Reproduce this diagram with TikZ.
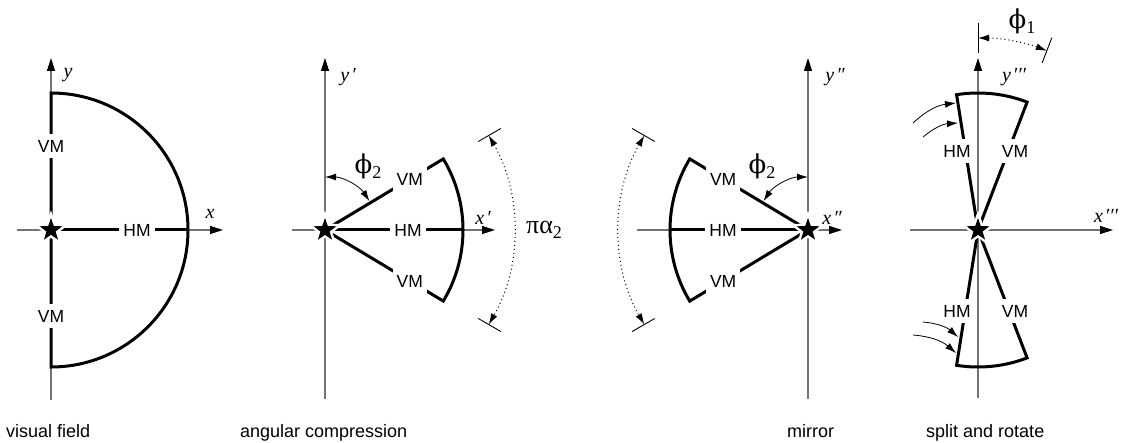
\documentclass[tikz,border=0pt]{standalone}
\usepackage{fontspec}
\setmainfont{Liberation Sans}
\newfontfamily\serifit{Liberation Serif}
\newfontfamily\greekphi{DejaVu Serif}
\usetikzlibrary{arrows.meta,shapes.geometric}
\newcommand{\subtwo}[1]{\raisebox{-5pt}{\fontsize{18}{18}\selectfont #1}}
\begin{document}
\begin{tikzpicture}[x=1pt,y=1pt,
  axis/.style={draw=black!55, line width=1.1pt, -{Triangle[length=13pt,width=8pt,color=black]}},
  bold/.style={line width=3pt, line join=miter},
  lab/.style={fill=white, inner xsep=4pt, inner ysep=6pt, font=\fontsize{17.5}{17.5}\selectfont},
  axlab/.style={font=\serifit\itshape\fontsize{20}{20}\selectfont, inner sep=0pt},
  greek/.style={font=\serifit\fontsize{26}{26}\selectfont, inner sep=0pt},
  dots/.style={line width=1pt, dash pattern=on 1pt off 3pt},
  dimtip/.style={{Latex[length=11pt,width=7pt]}-{Latex[length=11pt,width=7pt]}},
  thinarc/.style={line width=0.8pt},
  tickmark/.style={line width=0.9pt},
  curvarrow/.style={line width=0.8pt, -{Latex[length=11pt,width=7pt]}, bend left=18},
  caption/.style={font=\fontsize{18}{18}\selectfont, anchor=base west, inner sep=0pt},
  starnode/.style={star, star points=5, star point ratio=2.5, minimum size=24pt, inner sep=0pt, fill=black, preaction={draw=white, line width=5pt}}
]
\useasboundingbox (0,0) rectangle (1131,442);

% ---------- panel 1: visual field ----------
\begin{scope}[shift={(51,212)}]
  \coordinate (a1b) at (0,-170); \coordinate (a1t) at (0,172);
  \coordinate (a1l) at (-34,0);  \coordinate (a1r) at (172,0);
  \draw[axis] (a1b) -- (a1t);
  \draw[axis] (a1l) -- (a1r);
  \draw[bold] (0,137) arc[start angle=90,end angle=-90,radius=137] -- cycle;
  \draw[bold] (0,0) -- (137,0);
  \node[lab] (p1vmu) at (0,84) {VM};
  \node[lab] (p1vml) at (0,-86) {VM};
  \node[lab] (p1hm) at (86,0) {HM};
  \node[starnode] (s1) at (0,0) {};
  \node[axlab] (p1y) at (17,155) {y};
  \node[axlab] (p1x) at (159,16) {x};
\end{scope}

% ---------- panel 2: angular compression ----------
\begin{scope}[shift={(325,212)}]
  \coordinate (a2b) at (0,-169); \coordinate (a2t) at (0,172);
  \coordinate (a2l) at (-33,0);  \coordinate (a2r) at (170,0);
  \draw[axis] (a2b) -- (a2t);
  \draw[axis] (a2l) -- (a2r);
  \draw[bold] (0,0) -- (31:138) arc[start angle=31,end angle=-31,radius=138] -- cycle;
  \draw[bold] (0,0) -- (138,0);
  \node[lab] (p2vmu) at (31:99) {VM};
  \node[lab] (p2hm) at (83,0) {HM};
  \node[lab] (p2vml) at (-31:99) {VM};
  \draw[thinarc, dimtip] (90:53) arc[start angle=90,end angle=33,radius=53];
  \node[greek] (p2phi) at (43,64) {{\greekphi ϕ}\subtwo{2}};
  \draw[dots, dimtip] (30:189) arc[start angle=30,end angle=-30,radius=189];
  \draw[tickmark] (30:177) -- (30:203);
  \draw[tickmark] (-30:177) -- (-30:203);
  \node[greek] (p2pa) at (219,0) {πα\subtwo{2}};
  \node[starnode] (s2) at (0,0) {};
  \node[axlab] (p2y) at (23,153) {y\kern2pt′};
  \node[axlab] (p2x) at (158,12) {x\kern2pt′};
\end{scope}

% ---------- panel 3: mirror ----------
\begin{scope}[shift={(808,212)}]
  \coordinate (a3b) at (0,-169); \coordinate (a3t) at (0,172);
  \coordinate (a3l) at (-171,0); \coordinate (a3r) at (34,0);
  \draw[axis] (a3b) -- (a3t);
  \draw[axis] (a3l) -- (a3r);
  \draw[bold] (0,0) -- (149:138) arc[start angle=149,end angle=211,radius=138] -- cycle;
  \draw[bold] (0,0) -- (-138,0);
  \node[lab] (p3vmu) at (149:99) {VM};
  \node[lab] (p3hm) at (-85,0) {HM};
  \node[lab] (p3vml) at (211:99) {VM};
  \draw[thinarc, dimtip] (147:53) arc[start angle=147,end angle=90,radius=53];
  \node[greek] (p3phi) at (-46,64) {{\greekphi ϕ}\subtwo{2}};
  \draw[dots, dimtip] (150:189) arc[start angle=150,end angle=210,radius=189];
  \draw[tickmark] (150:177) -- (150:203);
  \draw[tickmark] (210:177) -- (210:203);
  \node[starnode] (s3) at (0,0) {};
  \node[axlab] (p3y) at (27,153) {y\kern2pt″};
  \node[axlab] (p3x) at (24,12) {x\kern2pt″};
\end{scope}

% ---------- panel 4: split and rotate ----------
\begin{scope}[shift={(978,212)}]
  \coordinate (a4b) at (0,-168); \coordinate (a4t) at (0,172);
  \coordinate (a4l) at (-68,0);  \coordinate (a4r) at (135,0);
  \draw[axis] (a4b) -- (a4t);
  \draw[axis] (a4l) -- (a4r);
  \draw[bold] (0,0) -- (99:137) arc[start angle=99,end angle=69,radius=137] -- cycle;
  \draw[bold] (0,0) -- (-99:137) arc[start angle=-99,end angle=-69,radius=137] -- cycle;
  \node[lab] (p4hmu) at (-21,79) {HM};
  \node[lab] (p4vmu) at (37,79) {VM};
  \node[lab] (p4hml) at (-21,-81) {HM};
  \node[lab] (p4vml) at (37,-81) {VM};
  \coordinate (c1t) at (-65,107); \coordinate (c1h) at (-22,127);
  \coordinate (c2t) at (-55,93);  \coordinate (c2h) at (-20,107);
  \coordinate (c3t) at (-55,-92); \coordinate (c3h) at (-20,-107);
  \coordinate (c4t) at (-65,-105); \coordinate (c4h) at (-22,-123);
  \draw[curvarrow] (c1t) to (c1h);
  \draw[curvarrow] (c2t) to (c2h);
  \draw[curvarrow] (c3t) to (c3h);
  \draw[curvarrow] (c4t) to (c4h);
  \draw[tickmark] (90:177) -- (90:207);
  \draw[tickmark] (69:179) -- (69:206);
  \draw[dots, dimtip] (90:192) arc[start angle=90,end angle=69,radius=192];
  \node[greek] (p4phi) at (44,209) {{\greekphi ϕ}\subtwo{1}};
  \node[starnode] (s4) at (0,0) {};
  \node[axlab] (p4y) at (36,153) {y\kern2pt′′′};
  \node[axlab] (p4x) at (128,14) {x\kern2pt′′′};
\end{scope}

% ---------- captions ----------
\node[caption] (cap1) at (6,5) {visual field};
\node[caption] (cap2) at (240,5) {angular compression};
\node[caption] (cap3) at (787,5) {mirror};
\node[caption] (cap4) at (926,5) {split and rotate};
\end{tikzpicture}
\end{document}
